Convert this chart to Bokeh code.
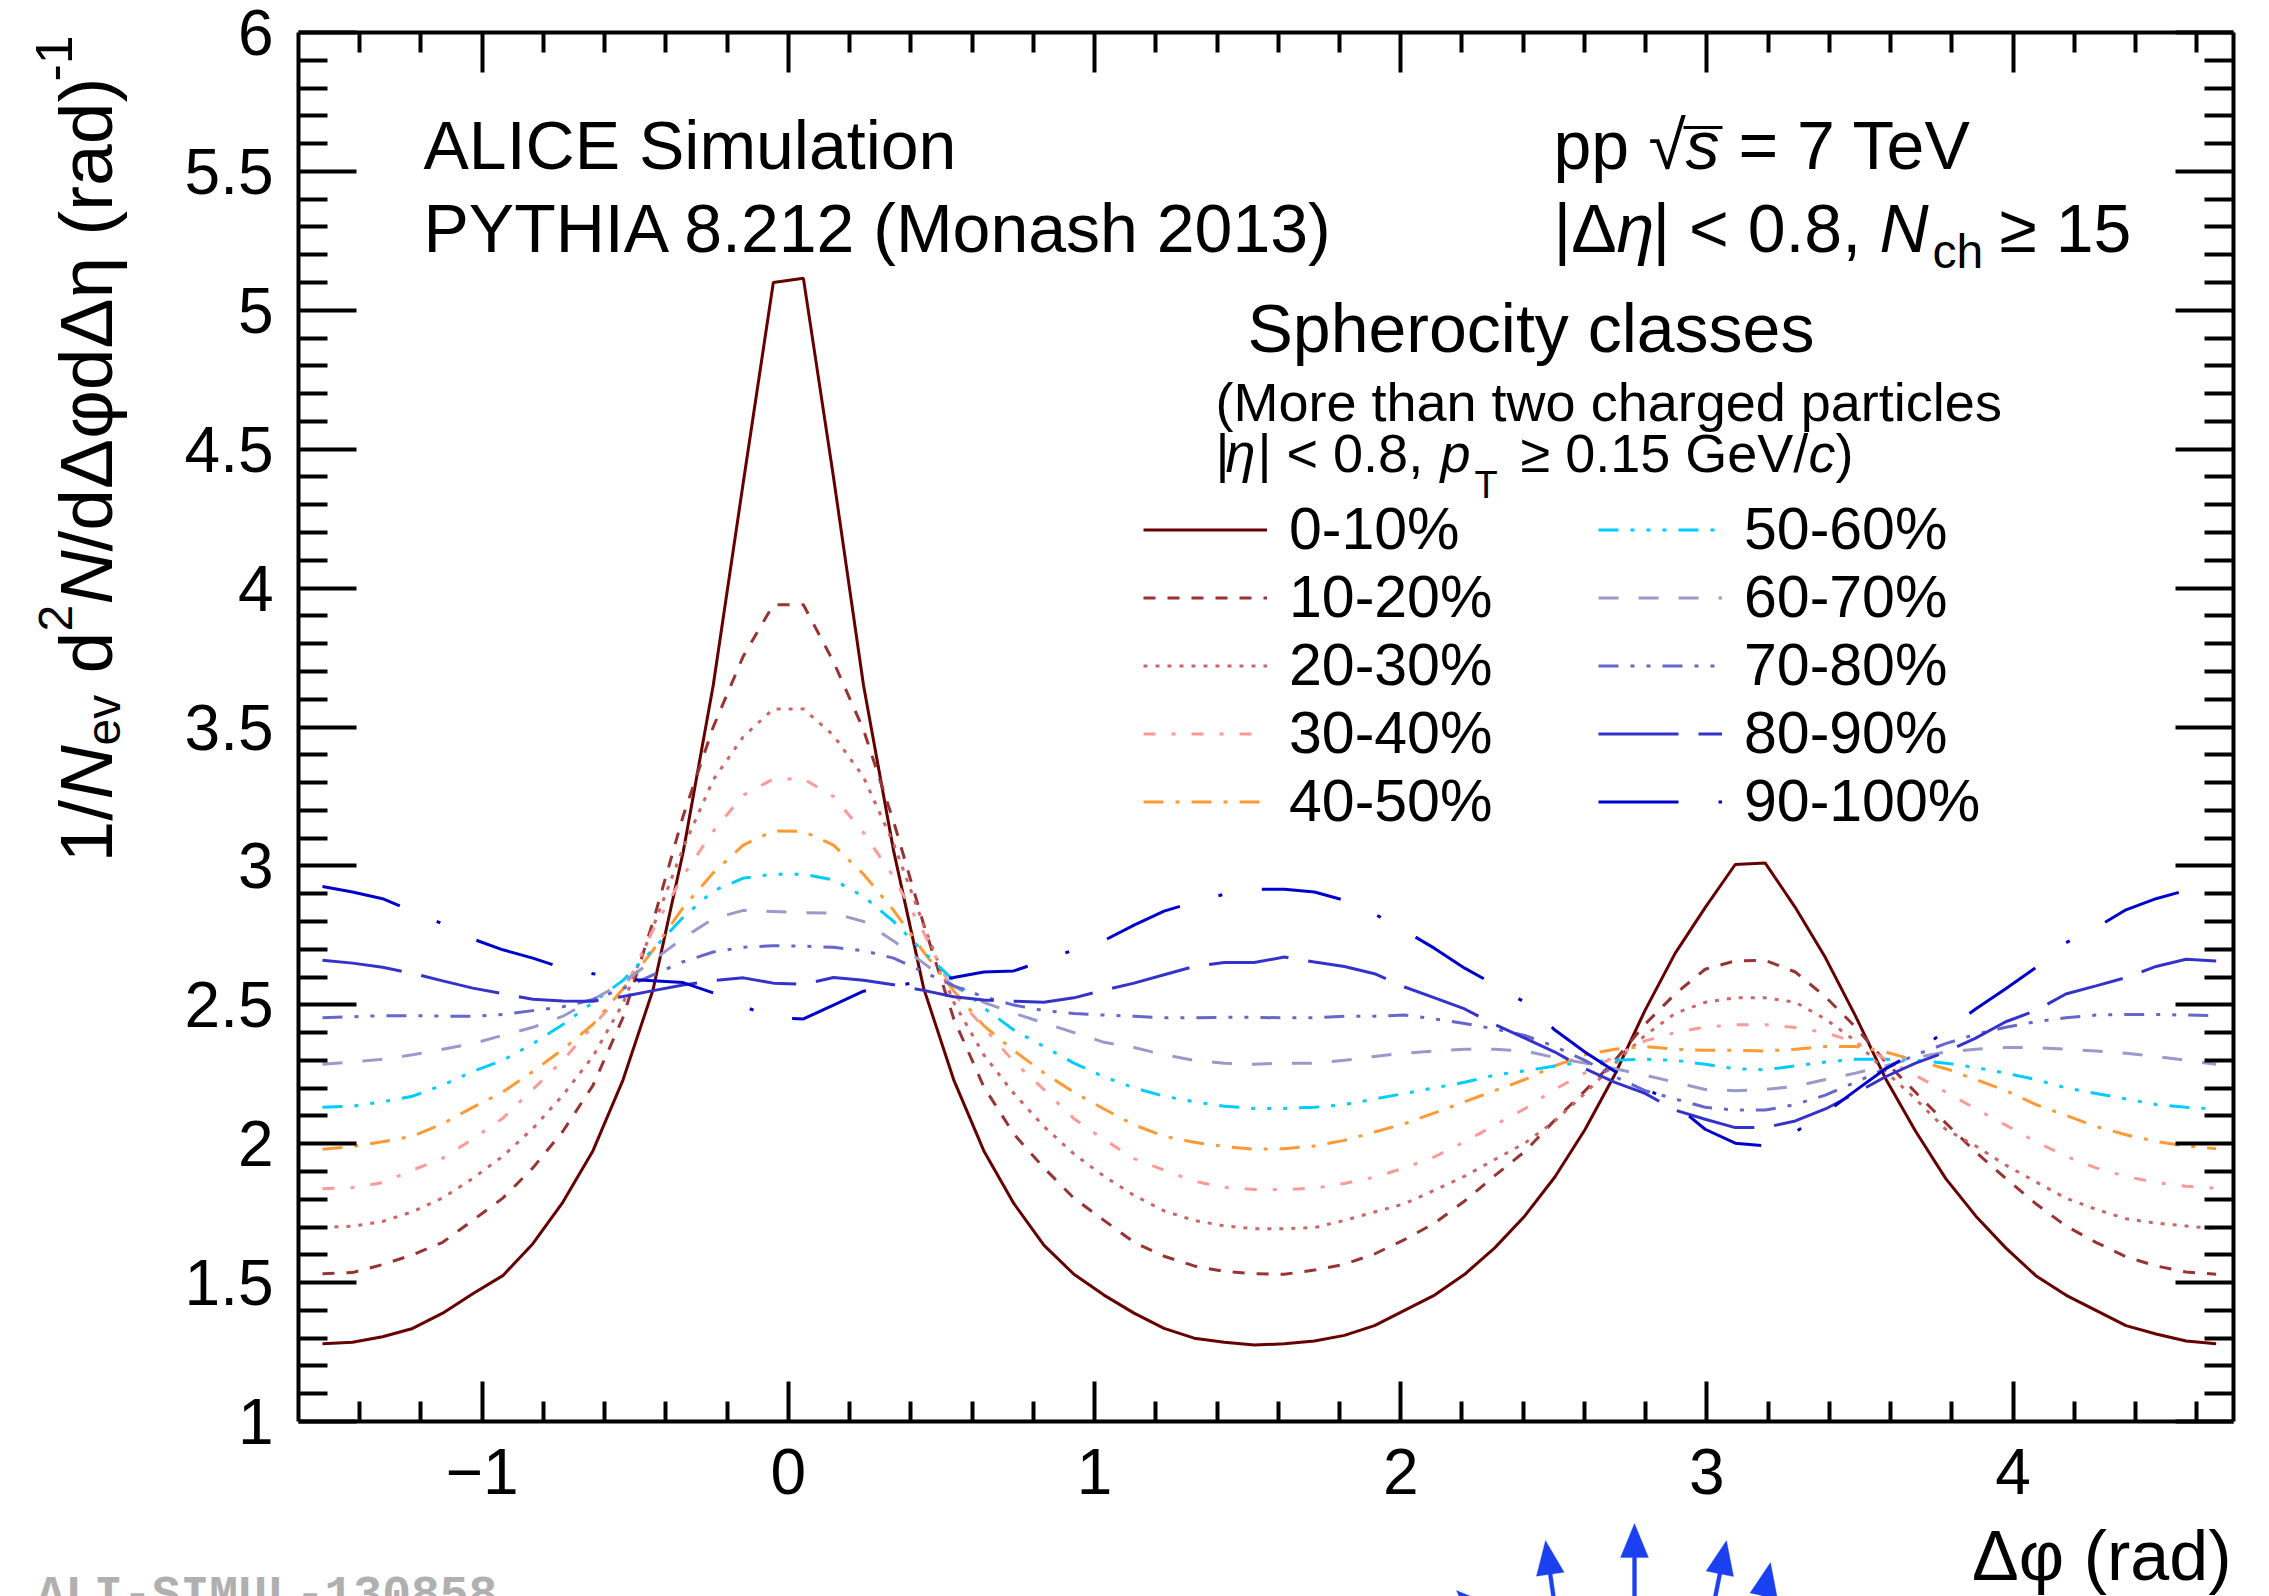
import math
from bokeh.plotting import figure
from bokeh.models import (Range1d, LinearAxis, FixedTicker, CustomJSTickFormatter, Label,
                          Legend, LegendItem, PolyAnnotation)
from bokeh.embed import file_html
from bokeh.resources import INLINE

# ---------------- data ----------------
dphi = [-1.5217, -1.4235, -1.3254, -1.2272, -1.1290, -1.0308, -0.9327, -0.8345,
        -0.7363, -0.6381, -0.5400, -0.4418, -0.3436, -0.2454, -0.1473, -0.0491,
        0.0491, 0.1473, 0.2454, 0.3436, 0.4418, 0.5400, 0.6381, 0.7363,
        0.8345, 0.9327, 1.0308, 1.1290, 1.2272, 1.3254, 1.4235, 1.5217,
        1.6199, 1.7181, 1.8162, 1.9144, 2.0126, 2.1108, 2.2089, 2.3071,
        2.4053, 2.5035, 2.6016, 2.6998, 2.7980, 2.8962, 2.9943, 3.0925,
        3.1907, 3.2889, 3.3870, 3.4852, 3.5834, 3.6816, 3.7797, 3.8779,
        3.9761, 4.0743, 4.1724, 4.2706, 4.3688, 4.4670, 4.5651, 4.6633]

sph_0_10 = [1.280, 1.285, 1.305, 1.335, 1.390, 1.460, 1.525, 1.640, 1.790, 1.975, 2.230, 2.555, 3.050, 3.650, 4.380, 5.100,
            5.115, 4.400, 3.650, 3.055, 2.560, 2.230, 1.975, 1.785, 1.635, 1.530, 1.455, 1.390, 1.335, 1.300, 1.285, 1.275,
            1.280, 1.290, 1.310, 1.345, 1.400, 1.455, 1.530, 1.625, 1.740, 1.880, 2.050, 2.250, 2.480, 2.685, 2.850, 3.005,
            3.010, 2.850, 2.670, 2.460, 2.235, 2.045, 1.875, 1.740, 1.625, 1.525, 1.455, 1.400, 1.345, 1.315, 1.290, 1.280]
sph_10_20 = [1.532, 1.536, 1.565, 1.600, 1.645, 1.724, 1.804, 1.913, 2.045, 2.210, 2.455, 2.800, 3.180, 3.500, 3.755, 3.940,
             3.940, 3.735, 3.490, 3.160, 2.790, 2.450, 2.205, 2.035, 1.913, 1.804, 1.724, 1.645, 1.595, 1.560, 1.540, 1.532,
             1.530, 1.545, 1.566, 1.603, 1.655, 1.714, 1.794, 1.885, 1.972, 2.085, 2.190, 2.300, 2.430, 2.539, 2.628, 2.658,
             2.660, 2.618, 2.529, 2.420, 2.295, 2.185, 2.075, 1.970, 1.875, 1.784, 1.704, 1.645, 1.593, 1.560, 1.538, 1.530]
sph_20_30 = [1.698, 1.703, 1.720, 1.755, 1.805, 1.875, 1.955, 2.055, 2.175, 2.315, 2.505, 2.780, 3.065, 3.310, 3.465, 3.565,
             3.565, 3.470, 3.320, 3.080, 2.787, 2.509, 2.320, 2.181, 2.062, 1.963, 1.883, 1.814, 1.758, 1.724, 1.704, 1.694,
             1.694, 1.698, 1.724, 1.754, 1.784, 1.833, 1.883, 1.943, 2.002, 2.082, 2.181, 2.290, 2.390, 2.469, 2.509, 2.525,
             2.525, 2.509, 2.449, 2.370, 2.260, 2.161, 2.052, 1.992, 1.923, 1.863, 1.804, 1.764, 1.730, 1.714, 1.704, 1.694]
sph_30_40 = [1.838, 1.842, 1.860, 1.905, 1.948, 2.017, 2.092, 2.196, 2.300, 2.424, 2.545, 2.770, 2.965, 3.125, 3.255, 3.313,
             3.313, 3.250, 3.120, 2.960, 2.760, 2.540, 2.418, 2.295, 2.195, 2.090, 2.015, 1.946, 1.905, 1.865, 1.843, 1.835,
             1.835, 1.840, 1.857, 1.880, 1.913, 1.953, 2.007, 2.067, 2.126, 2.196, 2.255, 2.315, 2.370, 2.400, 2.420, 2.428,
             2.428, 2.418, 2.400, 2.365, 2.305, 2.246, 2.186, 2.126, 2.067, 2.007, 1.955, 1.913, 1.882, 1.860, 1.847, 1.840]
sph_40_50 = [1.980, 1.990, 2.007, 2.027, 2.072, 2.131, 2.186, 2.260, 2.340, 2.430, 2.558, 2.697, 2.850, 2.975, 3.075, 3.126,
             3.124, 3.075, 2.970, 2.840, 2.690, 2.550, 2.425, 2.335, 2.255, 2.185, 2.125, 2.068, 2.027, 2.005, 1.990, 1.980,
             1.982, 1.992, 2.012, 2.042, 2.072, 2.111, 2.151, 2.191, 2.231, 2.280, 2.320, 2.340, 2.350, 2.340, 2.336, 2.336,
             2.334, 2.340, 2.350, 2.350, 2.330, 2.300, 2.270, 2.231, 2.191, 2.141, 2.102, 2.062, 2.032, 2.008, 1.992, 1.982]
sph_50_60 = [2.131, 2.135, 2.151, 2.171, 2.211, 2.260, 2.300, 2.360, 2.429, 2.509, 2.588, 2.700, 2.815, 2.910, 2.956, 2.970,
             2.970, 2.950, 2.890, 2.800, 2.690, 2.588, 2.489, 2.409, 2.350, 2.290, 2.241, 2.201, 2.171, 2.151, 2.135, 2.127,
             2.127, 2.131, 2.141, 2.161, 2.181, 2.201, 2.221, 2.247, 2.262, 2.280, 2.294, 2.300, 2.304, 2.300, 2.286, 2.270,
             2.266, 2.280, 2.294, 2.304, 2.304, 2.300, 2.290, 2.274, 2.254, 2.231, 2.201, 2.181, 2.161, 2.141, 2.131, 2.125]
sph_60_70 = [2.286, 2.294, 2.304, 2.320, 2.340, 2.360, 2.390, 2.419, 2.459, 2.519, 2.580, 2.660, 2.740, 2.810, 2.840, 2.836,
             2.832, 2.830, 2.800, 2.730, 2.650, 2.568, 2.509, 2.470, 2.435, 2.400, 2.365, 2.346, 2.320, 2.300, 2.290, 2.286,
             2.290, 2.290, 2.300, 2.314, 2.326, 2.334, 2.340, 2.340, 2.334, 2.310, 2.290, 2.270, 2.247, 2.221, 2.195, 2.191,
             2.195, 2.207, 2.231, 2.254, 2.280, 2.310, 2.330, 2.340, 2.346, 2.346, 2.340, 2.334, 2.326, 2.314, 2.300, 2.286]
sph_70_80 = [2.453, 2.457, 2.461, 2.461, 2.459, 2.459, 2.465, 2.479, 2.493, 2.519, 2.558, 2.608, 2.655, 2.690, 2.707, 2.713,
             2.711, 2.707, 2.695, 2.668, 2.618, 2.568, 2.529, 2.499, 2.479, 2.469, 2.463, 2.459, 2.453, 2.453, 2.455, 2.455,
             2.453, 2.453, 2.459, 2.459, 2.463, 2.449, 2.433, 2.413, 2.390, 2.350, 2.300, 2.241, 2.191, 2.161, 2.131, 2.121,
             2.121, 2.141, 2.175, 2.221, 2.270, 2.320, 2.360, 2.394, 2.419, 2.439, 2.453, 2.463, 2.465, 2.465, 2.463, 2.461]
sph_80_90 = [2.660, 2.650, 2.635, 2.613, 2.586, 2.560, 2.540, 2.520, 2.514, 2.513, 2.530, 2.551, 2.571, 2.587, 2.597, 2.578,
             2.574, 2.598, 2.588, 2.572, 2.552, 2.529, 2.517, 2.513, 2.509, 2.525, 2.553, 2.578, 2.608, 2.638, 2.652, 2.652,
             2.672, 2.654, 2.638, 2.612, 2.564, 2.525, 2.485, 2.429, 2.380, 2.330, 2.270, 2.221, 2.181, 2.121, 2.088, 2.058,
             2.058, 2.082, 2.125, 2.181, 2.241, 2.290, 2.330, 2.380, 2.439, 2.479, 2.539, 2.568, 2.598, 2.638, 2.664, 2.658]
sph_90_100 = [2.926, 2.906, 2.882, 2.837, 2.791, 2.737, 2.698, 2.668, 2.632, 2.612, 2.592, 2.587, 2.580, 2.543, 2.495, 2.453,
              2.449, 2.499, 2.549, 2.568, 2.584, 2.598, 2.618, 2.622, 2.658, 2.698, 2.731, 2.787, 2.837, 2.870, 2.898, 2.916,
              2.916, 2.906, 2.876, 2.827, 2.767, 2.703, 2.632, 2.572, 2.509, 2.409, 2.330, 2.260, 2.201, 2.141, 2.052, 2.002,
              1.992, 2.042, 2.111, 2.191, 2.270, 2.330, 2.405, 2.485, 2.558, 2.634, 2.723, 2.777, 2.842, 2.882, 2.912, 2.922]

classes = ["0-10%", "10-20%", "20-30%", "30-40%", "40-50%",
           "50-60%", "60-70%", "70-80%", "80-90%", "90-100%"]
series = [sph_0_10, sph_10_20, sph_20_30, sph_30_40, sph_40_50,
          sph_50_60, sph_60_70, sph_70_80, sph_80_90, sph_90_100]

x_major = [-1, 0, 1, 2, 3, 4]
x_minor = [-1.4, -1.2, -0.8, -0.6, -0.4, -0.2, 0.2, 0.4, 0.6, 0.8, 1.2, 1.4, 1.6, 1.8,
           2.2, 2.4, 2.6, 2.8, 3.2, 3.4, 3.6, 3.8, 4.2, 4.4, 4.6]
y_major = [1, 1.5, 2, 2.5, 3, 3.5, 4, 4.5, 5, 5.5, 6]
y_minor = [1.1, 1.2, 1.3, 1.4, 1.6, 1.7, 1.8, 1.9, 2.1, 2.2, 2.3, 2.4, 2.6, 2.7, 2.8, 2.9,
           3.1, 3.2, 3.3, 3.4, 3.6, 3.7, 3.8, 3.9, 4.1, 4.2, 4.3, 4.4, 4.6, 4.7, 4.8, 4.9,
           5.1, 5.2, 5.3, 5.4, 5.6, 5.7, 5.8, 5.9]

# ---------------- styles ----------------
colors = ["#660000", "#993333", "#cc6666", "#ff9999", "#ff9933",
          "#00ccff", "#9999cc", "#6666cc", "#3333cc", "#0000cc"]
dashes = ["solid", "12 12", "4 8", "12 16 4 16", "20 12 4 12",
          "20 12 4 12 4 12 4 12", "20 20", "20 12 4 12 4 12", "80 20", "80 40 4 40"]

FONT = "Liberation Sans"
W, H = 2269, 1596
FL, FR, FT, FB = 298, 2233, 32, 1421          # ROOT frame in picture pixels
XMIN, XMAX, YMIN, YMAX = -1.6, 4.72, 1.0, 6.0  # ROOT frame in data units
BASE_SHIFT = 0.35   # empirical: rendered alphabetic baseline sits this many em lower


def dx(px):
    return XMIN + (px - FL) * (XMAX - XMIN) / (FR - FL)


def dy(py):
    return YMIN + (FB - py) * (YMAX - YMIN) / (FB - FT)


# The Bokeh frame spans the whole picture; the ROOT-style box is made of four
# axes fixed at the edges of the data region.
p = figure(width=W, height=H, x_range=Range1d(dx(0), dx(W)), y_range=Range1d(dy(H), dy(0)),
           x_axis_location=None, y_axis_location=None, min_border=0,
           output_backend="svg", toolbar_location=None)
p.background_fill_color = "white"
p.border_fill_color = "white"
p.outline_line_color = None
for g in p.grid:
    g.visible = False


def make_axis(major, minor, tin, tmin, loc, bounds, labels):
    ax = LinearAxis(fixed_location=loc, bounds=bounds)
    ax.ticker = FixedTicker(ticks=major, minor_ticks=minor)
    ax.axis_line_width = 4
    ax.axis_line_color = "black"
    ax.major_tick_line_width = 4
    ax.minor_tick_line_width = 4
    ax.major_tick_line_color = "black"
    ax.minor_tick_line_color = "black"
    ax.major_tick_in = tin
    ax.major_tick_out = 0
    ax.minor_tick_in = tmin
    ax.minor_tick_out = 0
    ax.major_label_text_font = FONT
    ax.major_label_text_color = "black"
    if labels is None:
        ax.formatter = CustomJSTickFormatter(code="return '';")
        ax.major_label_text_font_size = "1px"
        ax.major_label_standoff = 0
    else:
        ax.formatter = CustomJSTickFormatter(code=labels[0])
        ax.major_label_text_font_size = "64px"
        ax.major_label_standoff = labels[1]
    return ax


p.add_layout(make_axis(x_major, x_minor, 40, 20, YMIN, (XMIN, XMAX),
                       ("return tick < 0 ? '\u2212' + String(-tick) : String(tick);", 27)), "below")
p.add_layout(make_axis(y_major, y_minor, 58, 29, XMIN, (YMIN, YMAX),
                       ("return String(tick);", 25)), "left")
p.add_layout(make_axis(x_major, x_minor, 40, 20, YMAX, (XMIN, XMAX), None), "above")
p.add_layout(make_axis(y_major, y_minor, 58, 29, XMAX, (YMIN, YMAX), None), "right")

# ---------------- curves ----------------
items = []
for name, vals, col, dash in zip(classes, series, colors, dashes):
    r = p.line(dphi, vals, line_color=col, line_width=3, line_dash=dash)
    items.append(LegendItem(label=name, renderers=[r]))

legend = Legend(items=items, location=(845 + FL, 586 + (H - FB)), ncols=2, orientation="vertical",
                glyph_width=124, glyph_height=65, label_height=65, label_width=309,
                label_standoff=22, spacing=0, padding=0, margin=0,
                border_line_color=None, background_fill_alpha=0,
                label_text_font=FONT, label_text_font_size="59px", label_text_color="black")
p.add_layout(legend)


# ---------------- texts ----------------
def txt(s, px, py, size, style="normal", align="left", angle=0, color="black", font=FONT):
    """px, py: picture position of the text's start on its baseline."""
    if angle == 0:
        ax_, ay_ = px, py - BASE_SHIFT * size
    else:
        ax_, ay_ = px - BASE_SHIFT * size, py
    p.add_layout(Label(x=dx(ax_), y=dy(ay_), text=s, text_font=font, text_font_size=f"{size}px",
                       text_font_style=style, text_align=align, text_baseline="alphabetic",
                       angle=angle, angle_units="deg", text_color=color))


BIG = 68
txt("ALICE Simulation", 423, 168, BIG)
txt("PYTHIA 8.212 (Monash 2013)", 423, 251, BIG)

# pp sqrt(s) = 7 TeV
txt("pp", 1553, 168, BIG)
txt("\u221a", 1648, 168, BIG)
txt("s", 1685, 168, BIG, style="italic")
txt("= 7 TeV", 1738, 168, BIG)
p.segment(x0=[dx(1683)], y0=[dy(127)], x1=[dx(1722)], y1=[dy(127)], line_color="black", line_width=3)

# |Δη| < 0.8, N_ch ≥ 15
txt("|\u0394", 1553, 251, BIG)
txt("\u03b7", 1616, 251, BIG, style="italic")
txt("| < 0.8,", 1652, 251, BIG)
txt("N", 1879, 251, BIG, style="italic")
txt("ch", 1932, 268, 48)
txt("\u2265 15", 1999, 251, BIG)

txt("Spherocity classes", 1247, 351, BIG)
SM = 54
txt("(More than two charged particles", 1215, 420, SM)
txt("|", 1215, 471, SM)
txt("\u03b7", 1225, 471, SM, style="italic")
txt("| < 0.8,", 1257, 471, SM)
txt("p", 1440, 471, SM, style="italic")
txt("T", 1474, 498, 38)
txt("\u2265 0.15 GeV/", 1520, 471, SM)
txt("c", 1808, 471, SM, style="italic")
txt(")", 1835, 471, SM)

# x-axis title
txt("\u0394\u03c6 (rad)", 2231, 1580, 70, align="right")

# y-axis title, composed bottom-to-top (baseline at picture x = 112)
YB = 112
txt("1/", YB, 862, 75, angle=90)
txt("N", YB, 799, 75, style="italic", angle=90)
txt("ev", YB + 8, 745, 48, angle=90)
txt("d", YB, 673, 75, angle=90)
txt("2", YB - 40, 631, 48, angle=90)
txt("N", YB, 604, 75, style="italic", angle=90)
txt("/d\u0394\u03c6d\u0394\u03b7 (rad)", YB, 551, 75, angle=90)
txt("-1", YB - 40, 81, 52, angle=90)

# figure id, mostly below the picture's edge as in the original
txt("ALI-SIMUL-130858", 36, 1612, 48, style="bold", color="#b0b0b0", font="Liberation Mono")

# spherocity sketch arrows (partly outside the picture, as in the original)
BLUE = "#1a40f0"
for tx, ty, bx, by in [(1634, 1523, 1634, 1660), (1545, 1540, 1562, 1660),
                       (1726, 1540, 1702, 1660), (1770, 1562, 1750, 1660),
                       (1456, 1590, 1512, 1645)]:
    L = math.hypot(tx - bx, ty - by)
    ux, uy = (tx - bx) / L, (ty - by) / L
    nx, ny = -uy, ux
    hx, hy = tx - 34 * ux, ty - 34 * uy
    pts = [(bx - 2 * nx, by - 2 * ny), (hx - 2 * nx, hy - 2 * ny), (hx - 14 * nx, hy - 14 * ny),
           (tx, ty), (hx + 14 * nx, hy + 14 * ny), (hx + 2 * nx, hy + 2 * ny), (bx + 2 * nx, by + 2 * ny)]
    p.add_layout(PolyAnnotation(xs=[dx(a) for a, b in pts], ys=[dy(b) for a, b in pts],
                                fill_color=BLUE, fill_alpha=1.0, line_color=BLUE, line_width=1))

open("out.html", "w").write(file_html(p, INLINE))
